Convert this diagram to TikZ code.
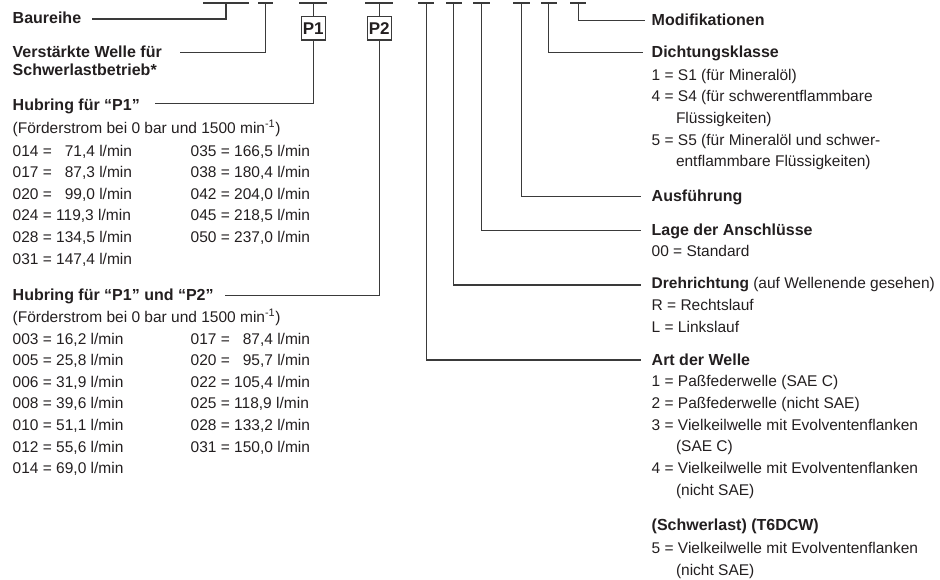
\documentclass[tikz,border=0pt]{standalone}
\usepackage{fontspec}
\setmainfont{Liberation Sans}
\definecolor{ink}{HTML}{231F20}
\definecolor{linec}{HTML}{3A3A3A}
\begin{document}
\begin{tikzpicture}[x=1pt,y=-1pt,
  txt/.style={anchor=base west, inner sep=0pt, outer sep=0pt, font=\fontsize{15.5}{18}\selectfont, text=ink},
  hd/.style={txt, font=\fontsize{16}{18}\selectfont\bfseries},
  conn/.style={draw=linec, line width=1.1pt},
  barnode/.style={rectangle, fill=linec, inner sep=0pt, outer sep=0pt, minimum height=2.6pt},
  pbox/.style={rectangle, draw=linec, line width=1.2pt, fill=white, text=ink, font=\fontsize{17}{18}\selectfont\bfseries, minimum width=24pt, minimum height=23.3pt, inner sep=0pt}]
\useasboundingbox (0,0) rectangle (940,579);

% top bars
\node[barnode, minimum width=46.6pt] (bA) at (226,3) {};
\node[barnode, minimum width=15.6pt] (bB) at (265.5,3) {};
\node[barnode, minimum width=27.7pt] (bC) at (313.2,3) {};
\node[barnode, minimum width=28.3pt] (bD) at (379.2,3) {};
\node[barnode, minimum width=16pt] (bE) at (426.2,3) {};
\node[barnode, minimum width=16pt] (bF) at (453.8,3) {};
\node[barnode, minimum width=16.2pt] (bG) at (481.4,3) {};
\node[barnode, minimum width=16.5pt] (bH) at (521.5,3) {};
\node[barnode, minimum width=16.2pt] (bI) at (548.6,3) {};
\node[barnode, minimum width=16pt] (bJ) at (578.3,3) {};

% P boxes
\node[pbox] (p1) at (313.2,28.3) {P1};
\node[pbox] (p2) at (379.2,28.3) {P2};

% connector ends
\coordinate (cA) at (92,19);
\coordinate (cB) at (180,52.3);
\coordinate (cC) at (155,103.5);
\coordinate (cD) at (225,295.3);
\coordinate (cE) at (641,360);
\coordinate (cF) at (641,285);
\coordinate (cG) at (641,230.7);
\coordinate (cH) at (641,196.7);
\coordinate (cI) at (643,52.3);
\coordinate (cJ) at (645,20.7);

\draw[conn] (bA.south) |- (cA);
\draw[conn] (bB.south) |- (cB);
\draw[conn] (bC.south) -- (p1.north);
\draw[conn] (p1.south) |- (cC);
\draw[conn] (bD.south) -- (p2.north);
\draw[conn] (p2.south) |- (cD);
\draw[conn] (bE.south) |- (cE);
\draw[conn] (bF.south) |- (cF);
\draw[conn] (bG.south) |- (cG);
\draw[conn] (bH.south) |- (cH);
\draw[conn] (bI.south) |- (cI);
\draw[conn] (bJ.south) |- (cJ);

% left column
\node[hd] (t1) at (12.7,23.5) {Baureihe};
\node[hd] (t2) at (12.7,57.5) {Verstärkte Welle für};
\node[hd] (t3) at (12.7,75) {Schwerlastbetrieb*};

\node[hd] (h1) at (12.7,110) {Hubring für “P1”};
\node[txt] (f1) at (12.7,133) {(Förderstrom bei 0 bar und 1500 min\textsuperscript{-1})};
\node[txt] (a1) at (12.7,156) {014 = \hphantom{0}71,4 l/min};
\node[txt] (a2) at (12.7,177.6) {017 = \hphantom{0}87,3 l/min};
\node[txt] (a3) at (12.7,199.2) {020 = \hphantom{0}99,0 l/min};
\node[txt] (a4) at (12.7,220.8) {024 = 119,3 l/min};
\node[txt] (a5) at (12.7,242.4) {028 = 134,5 l/min};
\node[txt] (a6) at (12.7,264) {031 = 147,4 l/min};
\node[txt] (b1) at (190.7,156) {035 = 166,5 l/min};
\node[txt] (b2) at (190.7,177.6) {038 = 180,4 l/min};
\node[txt] (b3) at (190.7,199.2) {042 = 204,0 l/min};
\node[txt] (b4) at (190.7,220.8) {045 = 218,5 l/min};
\node[txt] (b5) at (190.7,242.4) {050 = 237,0 l/min};

\node[hd] (h2) at (12.7,300.7) {Hubring für “P1” und “P2”};
\node[txt] (f2) at (12.7,322) {(Förderstrom bei 0 bar und 1500 min\textsuperscript{-1})};
\node[txt] (c1) at (12.7,344) {003 = 16,2 l/min};
\node[txt] (c2) at (12.7,365.6) {005 = 25,8 l/min};
\node[txt] (c3) at (12.7,387.2) {006 = 31,9 l/min};
\node[txt] (c4) at (12.7,408.8) {008 = 39,6 l/min};
\node[txt] (c5) at (12.7,430.4) {010 = 51,1 l/min};
\node[txt] (c6) at (12.7,452) {012 = 55,6 l/min};
\node[txt] (c7) at (12.7,473.6) {014 = 69,0 l/min};
\node[txt] (d1) at (190.7,344) {017 = \hphantom{0}87,4 l/min};
\node[txt] (d2) at (190.7,365.6) {020 = \hphantom{0}95,7 l/min};
\node[txt] (d3) at (190.7,387.2) {022 = 105,4 l/min};
\node[txt] (d4) at (190.7,408.8) {025 = 118,9 l/min};
\node[txt] (d5) at (190.7,430.4) {028 = 133,2 l/min};
\node[txt] (d6) at (190.7,452) {031 = 150,0 l/min};

% right column
\node[hd] (r1) at (651.7,25) {Modifikationen};
\node[hd] (r2) at (651.7,57.3) {Dichtungsklasse};
\node[txt] (r3) at (651.7,80) {1 = S1 (für Mineralöl)};
\node[txt] (r4) at (651.7,101.7) {4 = S4 (für schwerentflammbare};
\node[txt] (r5) at (676,123.3) {Flüssigkeiten)};
\node[txt] (r6) at (651.7,145) {5 = S5 (für Mineralöl und schwer-};
\node[txt] (r7) at (676,166.7) {entflammbare Flüssigkeiten)};
\node[hd] (r8) at (651.7,201.7) {Ausführung};
\node[hd] (r9) at (651.7,235) {Lage der Anschlüsse};
\node[txt] (r10) at (651.7,256.7) {00 = Standard};
\node[txt] (r11) at (651.7,288.3) {{\bfseries Drehrichtung} (auf Wellenende gesehen)};
\node[txt] (r12) at (651.7,310.3) {R = Rechtslauf};
\node[txt] (r13) at (651.7,332.5) {L = Linkslauf};
\node[hd] (r14) at (651.7,365) {Art der Welle};
\node[txt] (r15) at (651.7,386.7) {1 = Paßfederwelle (SAE C)};
\node[txt] (r16) at (651.7,408.3) {2 = Paßfederwelle (nicht SAE)};
\node[txt] (r17) at (651.7,430) {3 = Vielkeilwelle mit Evolventenflanken};
\node[txt] (r18) at (676,451.7) {(SAE C)};
\node[txt] (r19) at (651.7,473.3) {4 = Vielkeilwelle mit Evolventenflanken};
\node[txt] (r20) at (676,495) {(nicht SAE)};
\node[hd] (r21) at (651.7,530) {(Schwerlast) (T6DCW)};
\node[txt] (r22) at (651.7,553.3) {5 = Vielkeilwelle mit Evolventenflanken};
\node[txt] (r23) at (676,575) {(nicht SAE)};
\end{tikzpicture}
\end{document}
